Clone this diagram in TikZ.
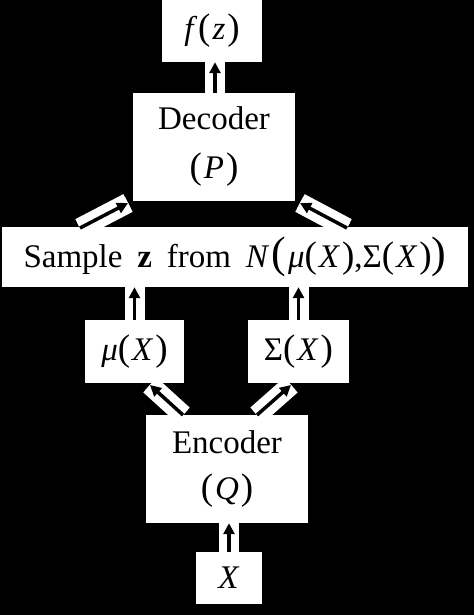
\documentclass[tikz,border=0pt]{standalone}
\usepackage{fontspec}
\setmainfont{Liberation Serif}
\usetikzlibrary{arrows.meta}
\newcommand{\vi}[1]{\textit{#1}}
\newcommand{\lp}{{\fontsize{37}{37}\selectfont (}\kern2pt}
\newcommand{\rp}{\kern2pt{\fontsize{37}{37}\selectfont )}}
\newcommand{\blp}{\kern2pt{\fontsize{44}{44}\selectfont (}\kern2pt}
\newcommand{\brp}{{\fontsize{44}{44}\selectfont )}}
\tikzset{
  blk/.style={fill=white, inner sep=0pt, align=center, font=\fontsize{33}{46}\selectfont},
  twoline/.style={blk, minimum width=162pt, minimum height=108pt, text depth=8pt},
  flow/.style={draw=black, line width=3.5pt, -{Triangle[length=11pt,width=11pt]},
    preaction={draw=white, line width=20pt, -}},
  slant/.style={flow, preaction={draw=white, line width=13pt, -}}
}
\begin{document}
\begin{tikzpicture}[x=1pt,y=1pt]
	\fill [black] (0,0) rectangle (474,-615);
	\useasboundingbox (0,0) rectangle (474,-615);
	% boxes
	\node [blk, minimum width=100pt, minimum height=62pt] (fz) at (212,-31) {\vi{f}\kern1pt\lp\vi{z}\rp};
	\node [twoline] (dec) at (214,-147) {Decoder\\[3pt]\lp\vi{P}\rp};
	\node [blk, minimum width=466pt, minimum height=60pt] (samp) at (235,-257)
		{Sample\hspace{0.45em}\textbf{z}\hspace{0.45em}from\hspace{0.45em}\vi{N}\blp\vi{μ}\lp\vi{X}\rp,Σ\lp\vi{X}\rp\brp};
	\node [blk, minimum width=99pt, minimum height=63pt] (mu) at (134.5,-351.5) {\vi{μ}\lp\vi{X}\rp};
	\node [blk, minimum width=101pt, minimum height=63pt] (sig) at (298.5,-351.5) {Σ\lp\vi{X}\rp};
	\node [twoline] (enc) at (227,-469) {Encoder\\\lp\vi{Q}\rp};
	\node [blk, minimum width=66pt, minimum height=52pt] (x) at (229,-578) {\vi{X}};
	% free ends of the slanted arrows
	\coordinate (sdl) at (80,-228);
	\coordinate (sdr) at (347,-228);
	\coordinate (dl) at (128,-203);
	\coordinate (dr) at (300,-203);
	\coordinate (eml) at (183,-415);
	\coordinate (esr) at (257,-415);
	\coordinate (ml) at (150,-385);
	\coordinate (sr) at (291,-385);
	% arrows
	\draw [flow] (x.north) -- (x.north |- enc.south);
	\draw [slant] (eml) -- (ml);
	\draw [slant] (esr) -- (sr);
	\draw [flow] (mu.north) -- (mu.north |- samp.south);
	\draw [flow] (sig.north) -- (sig.north |- samp.south);
	\draw [slant] (sdl) -- (dl);
	\draw [slant] (sdr) -- (dr);
	\draw [flow] ([xshift=1pt]dec.north) -- ([xshift=1pt]dec.north |- fz.south);
\end{tikzpicture}
\end{document}
